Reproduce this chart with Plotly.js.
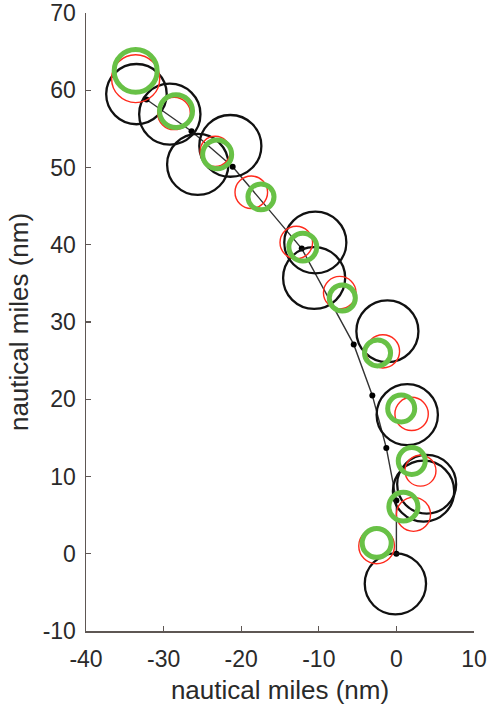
<!DOCTYPE html>
<html>
<head>
<meta charset="utf-8">
<script src="https://cdn.plot.ly/plotly-3.0.1.min.js"></script>
<style>
  html, body { margin: 0; padding: 0; background: #fff; }
  #chart { width: 489px; height: 713px; }
</style>
</head>
<body>
<div id="chart"></div>
<script>
// Track positions (nm), joined by a thin line with dots
const trackX = [0, 0, -1.3, -3.1, -5.5, -12.2, -21.1, -26.4, -32.2];
const trackY = [0, 6.9, 13.7, 20.5, 27.1, 39.5, 50.1, 54.7, 58.8];

// Large black uncertainty circles: centres and radii (nm)
const blackX = [-33.5, -29.2, -25.6, -21.4, -10.45, -10.6, -1.16, 1.4, 3.9, 3.5, -0.13];
const blackY = [59.5, 56.9, 50.4, 52.8, 40.3, 35.7, 28.8, 18.0, 9.0, 8.1, -3.9];
const blackR = [3.9, 3.95, 3.95, 4.0, 4.0, 4.0, 4.0, 3.95, 3.8, 3.95, 3.95];

// Red circles
const redX = [-33.6, -28.65, -23.35, -18.7, -12.9, -7.3, -1.74, 1.96, 3.1, 2.2, -2.55];
const redY = [61.5, 57.0, 52.1, 46.8, 40.3, 33.8, 26.2, 18.1, 10.75, 5.1, 1.0];
const redR = [3.1, 2.1, 1.95, 2.1, 2.1, 2.1, 2.15, 2.15, 2.0, 2.2, 2.3];

// Thick green circles
const greenX = [-33.6, -28.4, -23.1, -17.45, -12.06, -6.97, -2.43, 0.62, 1.98, 0.9, -2.54];
const greenY = [62.5, 57.3, 51.7, 46.2, 39.7, 33.1, 26.0, 18.8, 12.0, 6.1, 1.4];
const greenR = [2.77, 2.13, 1.87, 1.68, 1.8, 1.68, 1.68, 1.74, 1.74, 1.87, 1.87];

// Axis ticks
const xTicks = [-40, -30, -20, -10, 0, 10];
const yTicks = [-10, 0, 10, 20, 30, 40, 50, 60, 70];

function circles(xs, ys, rs, color, width) {
  return xs.map((cx, i) => ({
    type: 'circle', xref: 'x', yref: 'y', layer: 'above',
    x0: cx - rs[i], x1: cx + rs[i], y0: ys[i] - rs[i], y1: ys[i] + rs[i],
    line: { color: color, width: width }
  }));
}

const shapes = []
  .concat(circles(blackX, blackY, blackR, '#111111', 2.3))
  .concat(circles(redX, redY, redR, '#ff2a1c', 1.4))
  .concat(circles(greenX, greenY, greenR, '#68c146', 5));

const track = {
  x: trackX, y: trackY, type: 'scatter', mode: 'lines+markers',
  line: { color: '#333333', width: 1.4 },
  marker: { color: '#000000', size: 6 },
  hoverinfo: 'skip', showlegend: false
};

const axisFont = { family: 'Liberation Sans, Arial, sans-serif', size: 23, color: '#2a2a2a' };
const titleFont = { family: 'Liberation Sans, Arial, sans-serif', size: 26, color: '#2a2a2a' };

const layout = {
  width: 489, height: 713,
  margin: { l: 86, r: 15, t: 13, b: 82 },
  paper_bgcolor: '#ffffff', plot_bgcolor: '#ffffff',
  showlegend: false,
  shapes: shapes,
  xaxis: {
    range: [-40.001, 10.001], tickvals: xTicks, ticktext: xTicks.map(String),
    showgrid: false, zeroline: false, showline: true,
    linecolor: '#5e5754', linewidth: 1.5,
    ticks: 'inside', ticklen: 5, tickcolor: '#5e5754', tickwidth: 1.2,
    tickfont: axisFont, ticklabelstandoff: 7, ticklabeloverflow: 'allow',
    title: { text: 'nautical miles (nm)', font: titleFont, standoff: 9 },
    automargin: false, fixedrange: true
  },
  yaxis: {
    range: [-10.001, 70.001], tickvals: yTicks, ticktext: yTicks.map(String),
    showgrid: false, zeroline: false, showline: true,
    linecolor: '#5e5754', linewidth: 1.5,
    ticks: 'inside', ticklen: 5, tickcolor: '#5e5754', tickwidth: 1.2,
    tickfont: axisFont, ticklabelstandoff: 4, ticklabeloverflow: 'allow',
    title: { text: 'nautical miles (nm)', font: titleFont, standoff: 6 },
    automargin: false, fixedrange: true
  }
};

Plotly.newPlot('chart', [track], layout, { staticPlot: true, displayModeBar: false });
</script>
</body>
</html>
